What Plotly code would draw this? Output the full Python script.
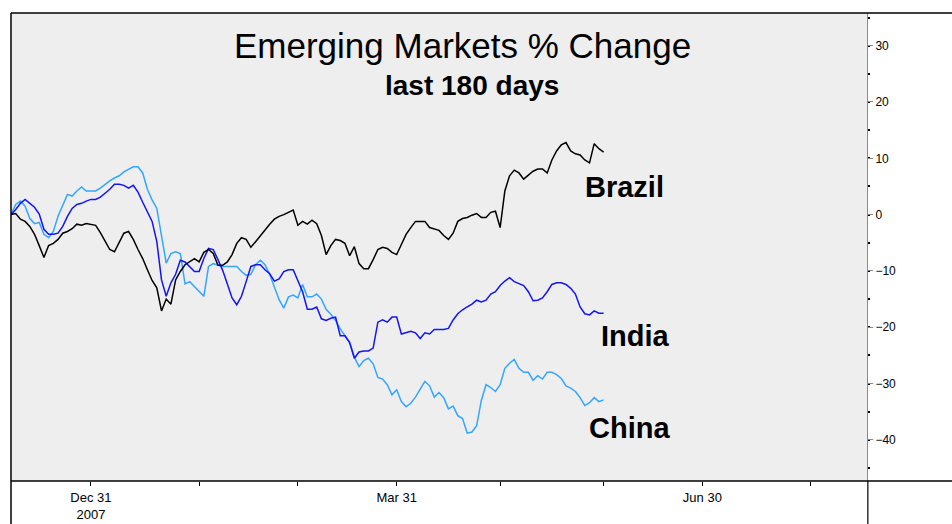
import pandas as pd
import plotly.graph_objects as go

# One value per weekday, 2007-12-06 .. 2008-05-30 (127 values)
dates = pd.bdate_range("2007-12-06", "2008-05-30")

brazil = [0.0, 0.2, -0.8, -1.2, -2.1, -3.5, -5.5, -7.6, -5.5, -5.1,
          -4.4, -3.3, -3.0, -2.5, -1.7, -1.9, -1.6, -1.7, -1.9, -3.2,
          -4.6, -6.2, -6.6, -4.8, -3.3, -3.0, -4.4, -6.2, -7.8, -9.8,
          -11.7, -13.0, -17.1, -15.0, -15.9, -11.6, -10.1, -8.9, -8.4, -7.8,
          -8.4, -6.7, -6.2, -6.9, -9.0, -9.0, -8.4, -7.1, -5.1, -4.1,
          -4.4, -5.8, -4.8, -3.7, -2.8, -1.7, -0.8, -0.3, 0.0, 0.4,
          0.8, -1.9, -1.2, -1.7, -1.0, -1.6, -3.7, -7.1, -5.5, -4.4,
          -4.6, -5.1, -7.3, -5.7, -8.7, -9.6, -9.6, -8.0, -6.2, -5.8,
          -6.0, -6.7, -7.1, -5.3, -3.5, -2.3, -1.2, -1.2, -1.2, -2.3,
          -2.6, -2.8, -3.7, -4.4, -3.3, -1.2, -0.7, -0.5, -0.1, 0.2,
          -0.5, -0.5, 0.4, 0.6, -2.3, 4.2, 6.9, 7.9, 7.4, 6.3,
          7.0, 7.7, 8.1, 8.1, 7.4, 9.7, 11.3, 12.4, 12.8, 11.3,
          10.8, 10.6, 9.7, 9.2, 12.6, 11.7, 11.1]

india = [0.0, 0.9, 2.0, 2.7, 2.0, 1.3, 0.1, -2.6, -3.5, -3.5,
         -3.3, -2.1, -0.3, 1.1, 1.8, 2.0, 2.4, 2.7, 2.7, 3.1,
         3.8, 4.5, 5.4, 5.4, 5.2, 4.7, 5.2, 4.0, 2.2, 0.4,
         -1.2, -4.8, -11.6, -14.5, -12.1, -10.6, -8.1, -8.4, -9.2, -10.1,
         -10.1, -7.8, -6.0, -6.2, -8.0, -9.9, -12.3, -14.8, -16.0, -14.5,
         -11.9, -9.2, -8.9, -8.9, -9.8, -10.5, -11.8, -11.4, -10.1, -9.8,
         -9.8, -11.6, -13.7, -16.8, -16.8, -16.4, -18.5, -18.8, -18.4, -18.2,
         -21.5, -21.5, -22.7, -25.5, -24.4, -24.2, -24.2, -23.7, -19.1, -18.7,
         -19.1, -18.2, -18.2, -21.2, -21.0, -20.7, -21.0, -22.0, -21.0, -21.2,
         -20.4, -20.4, -20.4, -20.2, -18.7, -17.6, -16.9, -16.4, -15.9, -15.2,
         -15.5, -15.2, -14.1, -13.7, -12.6, -11.8, -11.2, -11.9, -12.3, -12.6,
         -13.7, -15.3, -15.2, -14.8, -13.7, -12.4, -12.1, -12.1, -12.4, -13.1,
         -14.1, -16.4, -17.6, -17.8, -17.1, -17.5, -17.5]

china = [0.0, 1.8, 2.4, 1.5, -0.7, -1.6, -1.4, -3.5, -4.1, -3.0,
         -0.3, 1.8, 3.6, 3.3, 4.2, 4.9, 4.2, 4.2, 4.2, 4.7,
         5.4, 6.0, 6.5, 6.9, 7.6, 8.1, 8.5, 8.5, 7.4, 4.5,
         2.6, 1.1, -3.9, -8.6, -6.9, -6.6, -6.9, -12.3, -11.9, -12.8,
         -13.7, -14.5, -9.2, -8.7, -9.0, -9.2, -9.2, -9.2, -9.2, -10.1,
         -10.8, -10.6, -8.9, -8.1, -8.9, -10.6, -12.8, -15.1, -16.6, -14.6,
         -14.3, -14.8, -12.4, -14.6, -14.6, -14.1, -15.0, -16.8, -17.7, -18.8,
         -20.3, -21.6, -22.7, -25.3, -27.0, -25.9, -25.5, -26.5, -28.9, -29.2,
         -30.2, -32.0, -31.1, -33.2, -34.1, -33.5, -32.4, -31.0, -29.6, -30.4,
         -32.4, -31.6, -32.5, -34.5, -34.0, -35.7, -36.2, -38.8, -38.6, -37.5,
         -33.0, -30.2, -30.7, -31.4, -30.2, -27.3, -26.4, -25.7, -27.3, -28.0,
         -28.0, -29.4, -28.6, -29.2, -28.0, -28.0, -28.4, -29.1, -30.4, -30.8,
         -31.4, -32.5, -33.9, -33.4, -32.5, -33.2, -32.9]

series_names = ["China", "India", "Brazil"]
series_values = [china, india, brazil]
series_colors = ["#33A6FF", "#1414F5", "#000000"]

x_tickvals = ["2007-12-31", "2008-01-31", "2008-02-29", "2008-03-31",
              "2008-04-30", "2008-05-30", "2008-06-30", "2008-07-31"]
x_ticktext = ["Dec 31<br>2007", "", "", "Mar 31", "", "", "Jun 30", ""]
y_tickvals = [30, 20, 10, 0, -10, -20, -30, -40]

fig = go.Figure()
for name, vals, col in zip(series_names, series_values, series_colors):
    fig.add_trace(go.Scatter(x=dates, y=vals, mode="lines", name=name,
                             line=dict(color=col, width=1.5), hoverinfo="skip"))

font_main = "Liberation Sans, Arial, sans-serif"

def label(text, x, y, size):
    return dict(text=text, x=x, y=y, xref="paper", yref="paper",
                xanchor="center", yanchor="middle", showarrow=False,
                font=dict(size=size, color="black"))

fig.update_layout(
    width=952, height=533,
    margin=dict(l=11, r=85, t=13, b=47),
    paper_bgcolor="white", plot_bgcolor="#EEEEEE",
    showlegend=False,
    font=dict(family=font_main, color="black", size=12),
    xaxis=dict(type="date", range=["2007-12-06", "2008-08-18"],
               rangebreaks=[dict(bounds=["sat", "mon"])],
               tickvals=x_tickvals, ticktext=x_ticktext,
               ticks="outside", ticklen=4, tickcolor="black", tickwidth=1,
               showgrid=False, zeroline=False, showline=False,
               tickfont=dict(size=13)),
    yaxis=dict(side="right", range=[-47.3, 35.8], tickvals=y_tickvals,
               ticks="outside", ticklen=5, tickcolor="#888888", tickwidth=1,
               minor=dict(ticks="outside", ticklen=2, tickcolor="black",
                          tickwidth=2, dtick=5, tick0=5),
               showgrid=False, zeroline=False, showline=True,
               linecolor="#8a8a8a", linewidth=1,
               tickfont=dict(size=12)),
    annotations=[
        label("Emerging Markets % Change", 0.527, 0.931, 35),
        label("<b>last 180 days</b>", 0.539, 0.845, 28),
        label("<b>Brazil</b>", 0.717, 0.628, 29),
        label("<b>India</b>", 0.730, 0.310, 29),
        label("<b>China</b>", 0.723, 0.114, 29),
    ],
    shapes=[
        dict(type="line", xref="paper", yref="paper", x0=0, x1=1.1, y0=1, y1=1,
             line=dict(color="black", width=1.5)),
        dict(type="line", xref="paper", yref="paper", x0=0, x1=1.1, y0=0, y1=0,
             line=dict(color="black", width=1.5)),
        dict(type="line", xref="paper", yref="paper", x0=0, x1=0, y0=-0.11, y1=1,
             line=dict(color="black", width=1.5)),
        dict(type="line", xref="paper", yref="paper", x0=1.001, x1=1.001, y0=-0.11, y1=0,
             line=dict(color="black", width=1.2)),
    ],
)

fig.write_html("out.html", config={"displayModeBar": False},
               post_script="document.body.style.margin='0';document.body.style.overflow='hidden';")
